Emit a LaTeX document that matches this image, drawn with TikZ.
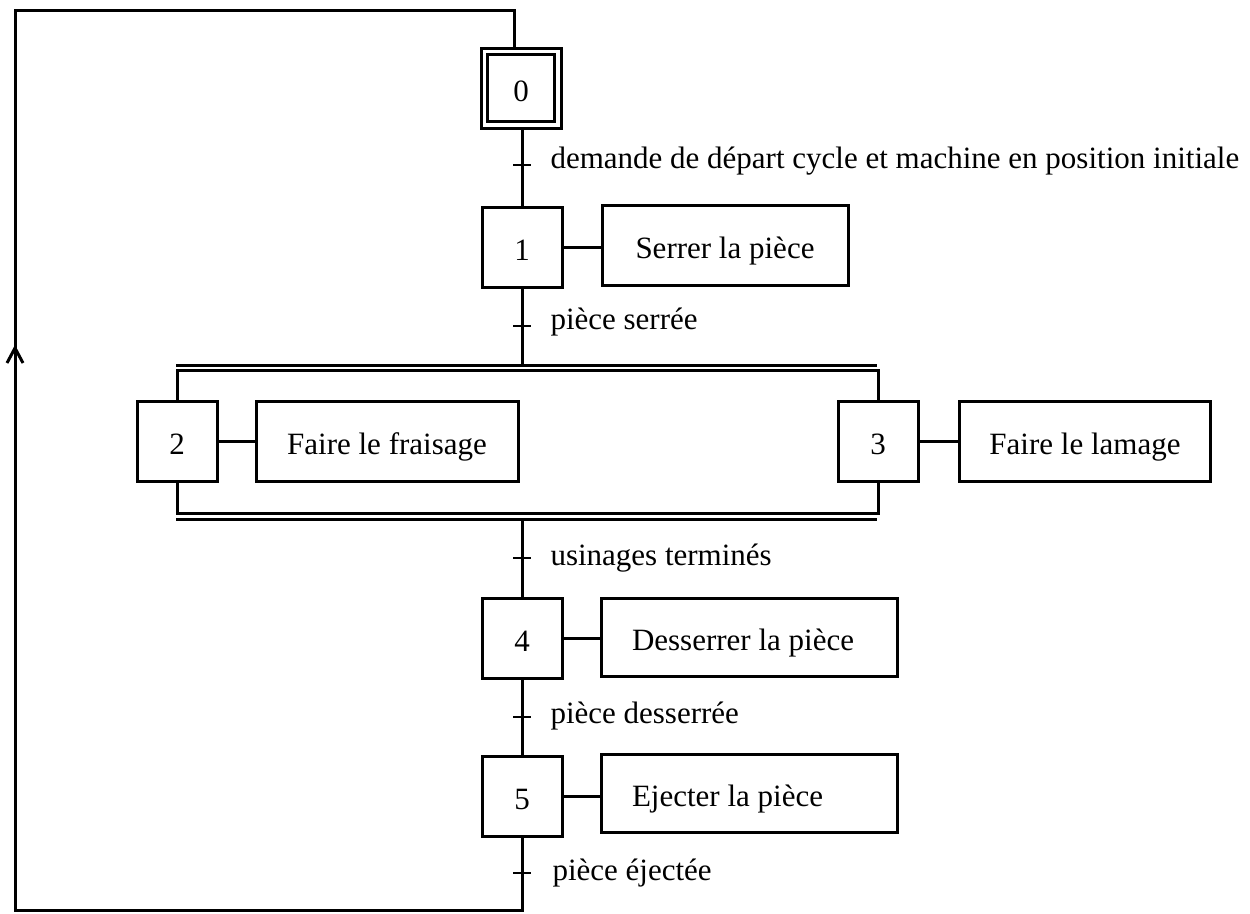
\documentclass[tikz,border=0pt]{standalone}
\usepackage{fontspec}
\setmainfont{Liberation Serif}
\begin{document}
\begin{tikzpicture}[x=1pt,y=-1pt,line width=3pt,
  txt/.style={font=\fontsize{31}{36}\selectfont},
  stepbox/.style={draw,txt,minimum width=80pt,minimum height=80pt,inner sep=0pt,text height=26pt,text depth=0pt},
  actbox/.style={draw,txt,minimum height=80pt,inner sep=0pt,text height=26pt,text depth=0pt},
  leftact/.style={actbox,minimum width=296pt,minimum height=78pt,text width=234pt,align=flush left},
  cond/.style={txt,anchor=west,inner sep=0pt},
  tick/.style={line width=2.6pt}]
\useasboundingbox (0,0) rectangle (1250,913);

% initial step with its inner frame
\node[stepbox] (s0) at (521,88) {0};
\draw ([shift={(8,8)}]s0.north west) rectangle ([shift={(-8,-8)}]s0.south east);

% steps
\node[stepbox] (s1) at (522,247) {1};
\node[stepbox] (s2) at (177,441) {2};
\node[stepbox] (s3) at (878,441) {3};
\node[stepbox] (s4) at (522,638) {4};
\node[stepbox] (s5) at (522,796) {5};

% actions
\node[actbox,minimum width=246pt] (a1) at (725,245) {Serrer la pièce};
\node[actbox,minimum width=262pt] (a2) at (387,441) {Faire le fraisage};
\node[actbox,minimum width=251pt] (a3) at (1085,441) {Faire le lamage};
\node[leftact] (a4) at (749,637) {Desserrer la pièce};
\node[leftact] (a5) at (749,793) {Ejecter la pièce};

\foreach \s/\a in {s1/a1,s2/a2,s3/a3,s4/a4,s5/a5}
  \draw (\s.east) -- (\s.east -| \a.west);

% transition points
\coordinate (t0) at (522,165);
\coordinate (t1) at (522,326);
\coordinate (t2) at (522,558);
\coordinate (t3) at (522,717);
\coordinate (t4) at (522,873);

% links
\draw (s0.south -| s1.north) -- (s1.north);
\draw (s1.south) -- (522,365);
\draw (s2.north) -- ++(0,-29) -| (s3.north);
\draw (s2.south) -- ++(0,31) -| (s3.south);
\draw (176,365) -- (877,365);
\draw (176,519) -- (877,519);
\draw (522,519) -- (s4.north);
\draw (s4.south) -- (s5.north);

% return loop
\coordinate (bot) at (522,910);
\coordinate (cornerBL) at (15,910);
\coordinate (cornerTL) at (15,10);
\coordinate (top) at (514,10);
\draw (s5.south) -- (bot) -- (cornerBL) -- (cornerTL) -- (top) -- (top |- s0.north);
\draw (7,363) -- (15,348) -- (23,363);

% transition bars and receptivities
\foreach \t in {t0,t1,t2,t3,t4}
  \draw[tick] ([xshift=-9pt]\t) -- ([xshift=9pt]\t);
\node[cond] at (549,161) {demande de départ cycle et machine en position initiale};
\node[cond] at (549,322) {pièce serrée};
\node[cond] at (549,558) {usinages terminés};
\node[cond] at (549,716) {pièce desserrée};
\node[cond] at (551,873) {pièce éjectée};
\end{tikzpicture}
\end{document}
